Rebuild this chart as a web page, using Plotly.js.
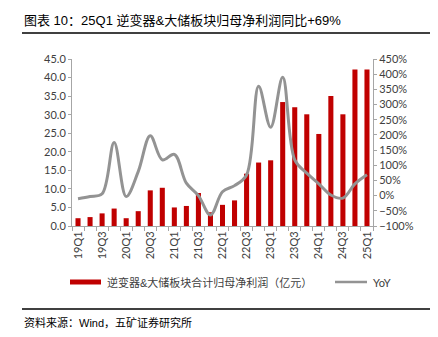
<!DOCTYPE html>
<html>
<head>
<meta charset="utf-8">
<script src="https://cdn.plot.ly/plotly-3.0.1.min.js"></script>
<style>
html,body{margin:0;padding:0;background:#fff;}
#chart{width:438px;height:337px;}
</style>
</head>
<body>
<div id="chart"></div>
<script>
const categories = ["19Q1","19Q2","19Q3","19Q4","20Q1","20Q2","20Q3","20Q4","21Q1","21Q2","21Q3","21Q4","22Q1","22Q2","22Q3","22Q4","23Q1","23Q2","23Q3","23Q4","24Q1","24Q2","24Q3","24Q4","25Q1"];
const profit = [2.1,2.4,3.4,4.7,2.1,4.0,9.6,10.3,5.0,5.4,8.9,3.7,5.7,6.9,14.1,17.1,17.7,33.4,32.0,30.1,24.8,35.0,30.1,42.2,42.2];
const yoy = [-10,-3,6,175,-3,79,197,118,136,41,0,-64,13,33,68,360,225,390,118,74,39,2,-8,39,69];
const tickLabels = categories.map((c,i)=> i%2===0 ? c : "");
const titleText = "图表 10：25Q1 逆变器&大储板块归母净利润同比+69%";
const sourceText = "资料来源：Wind，五矿证券研究所";
const barName = "逆变器&大储板块合计归母净利润（亿元）";
const lineName = "YoY";

const CJK = "'Liberation Sans', 'Noto Sans CJK SC', sans-serif";
const TICK = "'Lato', 'Noto Sans CJK SC', sans-serif";

// plot area: x 72..373, y 59..226
const L=72, R=373, T=59, B=226;
const px = x => (x-L)/(R-L);
const py = y => (B-y)/(B-T);

const data = [
  {type:'bar', x:categories, y:profit, name:barName, marker:{color:'#C00000'}, yaxis:'y', showlegend:false},
  {type:'scatter', mode:'lines', x:categories, y:yoy, name:lineName, yaxis:'y2',
   line:{color:'#939393', width:3, shape:'spline', smoothing:1}, showlegend:false}
];

const layout = {
  width:438, height:337,
  margin:{l:L, r:438-R, t:T, b:337-B, pad:0},
  paper_bgcolor:'#fff', plot_bgcolor:'#fff',
  bargap:0.58,
  showlegend:false,
  xaxis:{type:'category', tickmode:'array', tickvals:categories, ticktext:tickLabels,
    tickson:'boundaries', ticks:'outside', ticklen:4, tickcolor:'#a6a6a6',
    showline:true, linecolor:'#a6a6a6', linewidth:1, showgrid:false, zeroline:false,
    tickangle:-90, tickfont:{family:TICK, size:11, color:'#404040'}, fixedrange:true},
  yaxis:{range:[0,45], dtick:5, tickformat:'.1f', ticks:'outside', ticklen:3, tickcolor:'#a6a6a6',
    showline:true, linecolor:'#a6a6a6', linewidth:1, showgrid:false, zeroline:false,
    tickfont:{family:TICK, size:11, color:'#404040'}},
  yaxis2:{range:[-100,450], dtick:50, ticksuffix:'%', overlaying:'y', side:'right',
    ticks:'outside', ticklen:3, tickcolor:'#a6a6a6',
    showline:true, linecolor:'#a6a6a6', linewidth:1, showgrid:false, zeroline:false,
    tickfont:{family:TICK, size:11, color:'#404040'}},
  shapes:[
    {type:'line', xref:'paper', yref:'paper', x0:px(22), x1:px(430), y0:py(33), y1:py(33), line:{color:'#000', width:1.5}},
    {type:'line', xref:'paper', yref:'paper', x0:px(22), x1:px(430), y0:py(309), y1:py(309), line:{color:'#000', width:1.5}},
    {type:'rect', xref:'paper', yref:'paper', x0:px(70), x1:px(101), y0:py(284.5), y1:py(279.5), fillcolor:'#C00000', line:{width:0}},
    {type:'line', xref:'paper', yref:'paper', x0:px(335), x1:px(367), y0:py(282), y1:py(282), line:{color:'#939393', width:2.5}}
  ],
  annotations:[
    {xref:'paper', yref:'paper', x:px(22), y:py(20), xanchor:'left', yanchor:'middle', showarrow:false,
     text:titleText, font:{family:CJK, size:13, color:'#000'}},
    {xref:'paper', yref:'paper', x:px(22), y:py(322), xanchor:'left', yanchor:'middle', showarrow:false,
     text:sourceText, font:{family:CJK, size:11, color:'#000'}},
    {xref:'paper', yref:'paper', x:px(105), y:py(282), xanchor:'left', yanchor:'middle', showarrow:false,
     text:barName, font:{family:CJK, size:11, color:'#404040'}},
    {xref:'paper', yref:'paper', x:px(371), y:py(282), xanchor:'left', yanchor:'middle', showarrow:false,
     text:lineName, font:{family:TICK, size:11, color:'#404040'}}
  ]
};

Plotly.newPlot('chart', data, layout, {displayModeBar:false, staticPlot:true});
</script>
</body>
</html>
